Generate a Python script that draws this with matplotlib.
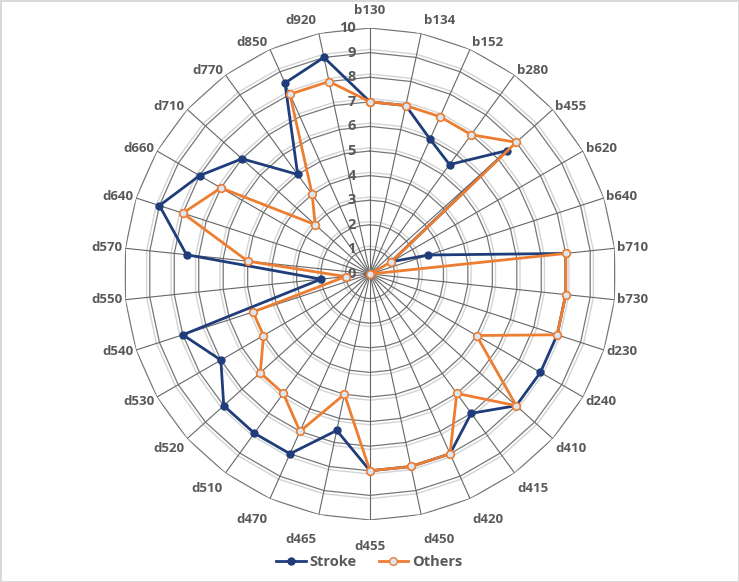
import numpy as np
import matplotlib
matplotlib.use("Agg")
import matplotlib.pyplot as plt
from matplotlib.transforms import offset_copy
from matplotlib.lines import Line2D

# data
cats = ["b130", "b134", "b152", "b280", "b455", "b620", "b640", "b710", "b730",
        "d230", "d240", "d410", "d415", "d420", "d450", "d455", "d465", "d470",
        "d510", "d520", "d530", "d540", "d550", "d570", "d640", "d660", "d710",
        "d770", "d850", "d920"]
stroke = [7, 7, 6, 5.5, 7.5, 1, 2.5, 8, 8, 8, 8, 8, 7, 8, 8, 8, 6.5, 8,
          8, 8, 7, 8, 2, 7.5, 9, 8, 7, 5, 8.5, 9]
others = [7, 7, 7, 7, 8, 1, 0, 8, 8, 8, 5, 8, 6, 8, 8, 8, 5, 7,
          6, 6, 5, 5, 1, 5, 8, 7, 3, 4, 8, 8]
rticks = list(range(0, 11))

blue = "#1f3d7a"
orange = "#ed7d31"
txt = "#595959"

plt.rcParams["font.family"] = ["Open Sans", "DejaVu Sans"]

W, H = 739, 582
fig = plt.figure(figsize=(W / 100, H / 100), dpi=100)
fig.patch.set_edgecolor("#d9d9d9")
fig.patch.set_linewidth(2)

# plot centre at (370, 274) px from top-left, radius 246 px
cx, cy, rad = 370, 274, 246
ax = fig.add_axes([(cx - rad) / W, 1 - (cy + rad) / H, 2 * rad / W, 2 * rad / H],
                  projection="polar")
ax.set_theta_zero_location("N")
ax.set_theta_direction(-1)
ax.set_ylim(0, 10)
ax.grid(False)
ax.set_xticks([])
ax.set_yticks([])
ax.spines["polar"].set_visible(False)

n = len(cats)
ang = np.linspace(0, 2 * np.pi, n, endpoint=False)
ang_c = np.append(ang, ang[0])

# polygon grid rings (dark line with a faint shadow line just outside)
for r in rticks[1:]:
    ax.plot(ang_c, [r + 0.13] * (n + 1), color="#d4d4d4", lw=1.0, zorder=1)
    ax.plot(ang_c, [r] * (n + 1), color="#777777", lw=0.9, zorder=1)
# spokes
for a in ang:
    ax.plot([a, a], [0, 10], color="#666666", lw=0.8, zorder=1)

ax.plot(ang_c, stroke + stroke[:1], color=blue, lw=2, marker="o", ms=5,
        mfc=blue, mec=blue, zorder=3, label="Stroke")
ax.plot(ang_c, others + others[:1], color=orange, lw=2, marker="o", ms=5.5,
        mfc="#dde6f3", mec=orange, mew=1.2, zorder=4, label="Others")

# category labels: excel hangs them off the spoke ends, sideways on the
# flanks and further down at the bottom
for a, c in zip(ang, cats):
    s, co = np.sin(a), np.cos(a)
    ex, ey = cx + rad * s, cy - rad * co
    xo = np.sign(s) * 18 * min(1, abs(s) * 5)
    if co >= 0:
        yo = -(5 * co + 13 * co ** 20)
    else:
        yo = 26 * (-co) ** 2.5
    fig.text((ex + xo) / W, 1 - (ey + yo) / H, c, ha="center", va="center",
             fontsize=9.5, fontweight="bold", color=txt)

# radial value labels
tr = offset_copy(ax.transData, fig=fig, x=-14, y=0, units="dots")
for r in rticks:
    ax.text(0, r, str(r), transform=tr, ha="right", va="center",
            fontsize=10.5, color=txt, fontweight="bold")

handles = [Line2D([], [], color=blue, lw=2, marker="o", ms=5, mfc=blue, mec=blue),
           Line2D([], [], color=orange, lw=2, marker="o", ms=5.5,
                  mfc="#dde6f3", mec=orange)]
leg = fig.legend(handles, ["Stroke", "Others"], loc="center",
                 bbox_to_anchor=(0.5, 0.034), ncol=2, frameon=False,
                 prop={"size": 10.5, "weight": "bold"}, handlelength=2.0,
                 columnspacing=1.5, handletextpad=0.3)
for t in leg.get_texts():
    t.set_color(txt)

fig.savefig("out.png", dpi=100)
